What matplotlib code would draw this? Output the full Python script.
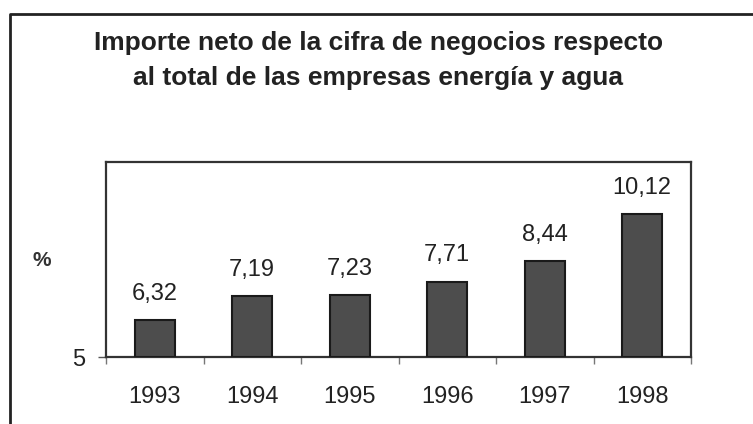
import matplotlib
matplotlib.use("Agg")
import matplotlib.pyplot as plt
from matplotlib.lines import Line2D

years = ["1993", "1994", "1995", "1996", "1997", "1998"]
values = [6.32, 7.19, 7.23, 7.71, 8.44, 10.12]
value_labels = ["6,32", "7,19", "7,23", "7,71", "8,44", "10,12"]

plt.rcParams['font.family'] = ['Liberation Sans', 'DejaVu Sans']

fig = plt.figure(figsize=(7.53, 4.24), dpi=100)
ax = fig.add_axes([106/753, 1 - 357/424, (691-106)/753, (357-162)/424])

x = list(range(len(years)))
base = 5
ax.bar(x, [v - base for v in values], bottom=base, width=0.41,
       color='#4d4d4d', edgecolor='#1a1a1a', linewidth=1.5, zorder=3)

for xi, v, lab in zip(x, values, value_labels):
    ax.annotate(lab, (xi, v), xytext=(0, 11), textcoords='offset points',
                ha='center', va='bottom', fontsize=17, color='#222222')

ax.set_xlim(-0.5, len(years) - 0.5)
ax.set_ylim(5, 12)
ax.set_yticks([5])
ax.set_yticklabels(["5"], fontsize=17, color='#222222')
ax.tick_params(axis='y', length=6, width=1, pad=9, colors='#555555', labelcolor='#222222')

ax.set_xticks(x)
ax.set_xticklabels(years, fontsize=17, color='#222222')
ax.tick_params(axis='x', which='major', length=0, pad=21)
ax.set_xticks([i - 0.5 for i in range(len(years) + 1)], minor=True)
ax.tick_params(axis='x', which='minor', length=5, width=1, colors='#777777')

for s in ax.spines.values():
    s.set_linewidth(1.6)
    s.set_color('#333333')

fig.text(42/753, 1 - 261/424, "%", ha='center', va='center', fontsize=15,
         fontweight='bold', color='#333333')

fig.text(379/753, 1 - 50/424, "Importe neto de la cifra de negocios respecto",
         ha='center', va='baseline', fontsize=19, fontweight='bold', color='#222222')
fig.text(378/753, 1 - 85/424, "al total de las empresas energía y agua",
         ha='center', va='baseline', fontsize=19, fontweight='bold', color='#222222')

# outer frame (left and top edges)
fig.add_artist(Line2D([10/753, 10/753, 1.0], [0.0, 1 - 14/424, 1 - 14/424],
                      transform=fig.transFigure, color='#222222', linewidth=2.0))

fig.savefig("out.png", dpi=100)
